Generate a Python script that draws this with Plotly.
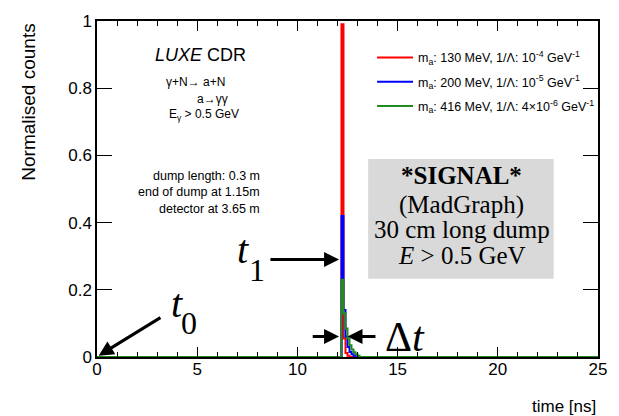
import plotly.graph_objects as go

# Time bins (ns) around the arrival peak; bin width 0.1 ns
peak_edges = [12.2, 12.3, 12.4, 12.5, 12.6, 12.7, 12.8, 12.9, 13.0, 13.1]
t_min, t_max = 0.0, 25.0

# Normalised counts per bin for each signal hypothesis
counts_130 = [0.99, 0.055, 0.012, 0.004, 0.0, 0.0, 0.0, 0.0, 0.0]
counts_200 = [0.42, 0.14, 0.06, 0.03, 0.015, 0.008, 0.004, 0.0, 0.0]
counts_416 = [0.23, 0.13, 0.085, 0.055, 0.035, 0.022, 0.014, 0.008, 0.004]

labels = [
    "m<sub>a</sub>: 130 MeV, 1/Λ: 10<sup>-4</sup> GeV<sup>-1</sup>",
    "m<sub>a</sub>: 200 MeV, 1/Λ: 10<sup>-5</sup> GeV<sup>-1</sup>",
    "m<sub>a</sub>: 416 MeV, 1/Λ: 4×10<sup>-6</sup> GeV<sup>-1</sup>",
]
colors = ["#ff0000", "#0000ff", "#1e8c1e"]

x_ticks = [0, 5, 10, 15, 20, 25]
y_ticks = [0, 0.2, 0.4, 0.6, 0.8, 1]
y_ticklabels = ["0", "0.2", "0.4", "0.6", "0.8", "1"]

SANS = "Liberation Sans, Arial, sans-serif"
SERIF = "Liberation Serif, Times New Roman, serif"


def step_series(values):
    """Histogram outline: zero baseline, peak bins, back to zero."""
    xs = [t_min] + peak_edges + [t_max]
    ys = [0.0] + list(values) + [0.0, 0.0]
    return xs, ys


fig = go.Figure()
for i, (vals, name, col) in enumerate(zip([counts_130, counts_200, counts_416], labels, colors)):
    xs, ys = step_series(vals)
    fig.add_trace(go.Scatter(
        x=xs, y=ys, mode="lines", name=name,
        line=dict(color=col, width=2, shape="hv"),
        legendgroup=f"g{i}",
    ))

axis_common = dict(
    showline=True, linecolor="black", linewidth=1.5, mirror="allticks",
    ticks="inside", tickcolor="black", showgrid=False, zeroline=False,
    tickfont=dict(family=SANS, size=17, color="black"),
)

fig.update_xaxes(range=[t_min, t_max], tickvals=x_ticks, ticklen=10, tickwidth=1,
                 ticklabelstandoff=-4,
                 minor=dict(dtick=1, ticks="inside", ticklen=5, tickcolor="black"),
                 **axis_common)
fig.update_yaxes(range=[0, 1], tickvals=y_ticks, ticktext=y_ticklabels, ticklen=15,
                 tickwidth=1, **axis_common)

annotations = []

# Axis titles
annotations.append(dict(text="Normalised counts", xref="paper", yref="paper",
                        x=-0.137, y=0.758, xanchor="center", yanchor="middle",
                        textangle=-90, showarrow=False,
                        font=dict(family=SANS, size=19, color="black")))
annotations.append(dict(text="time [ns]", xref="paper", yref="paper",
                        x=1.0, y=-0.146, xanchor="right", yanchor="middle",
                        showarrow=False, font=dict(family=SANS, size=17, color="black")))

# Left info block
annotations.append(dict(text="<i>LUXE</i> CDR", x=5.15, y=0.90, showarrow=False,
                        font=dict(family=SANS, size=18, color="black")))
for txt, xx, yy in [("γ+N→ a+N", 4.90, 0.819), ("a→γγ", 5.74, 0.767),
                    ("E<sub>γ</sub> > 0.5 GeV", 5.34, 0.72)]:
    annotations.append(dict(text=txt, x=xx, y=yy, showarrow=False,
                            font=dict(family=SANS, size=12, color="black")))
for txt, yy in [("dump length: 0.3 m", 0.539), ("end of dump at 1.15m", 0.49),
                ("detector at 3.65 m", 0.44)]:
    annotations.append(dict(text=txt, x=8.24, y=yy, xanchor="right", showarrow=False,
                            font=dict(family=SANS, size=12.5, color="black")))

# Signal description box
box_cx = 18.2
for txt, yy in [("<b>*SIGNAL*</b>", 0.540), ("(MadGraph)", 0.453),
                ("30 cm long dump", 0.380), ("<i>E</i> > 0.5 GeV", 0.303)]:
    annotations.append(dict(text=txt, x=box_cx, y=yy, showarrow=False,
                            font=dict(family=SERIF, size=25, color="black")))

# Timing markers
arrow = dict(text="", showarrow=True, arrowhead=2, arrowsize=1, arrowwidth=3,
             arrowcolor="black", axref="x", ayref="y")
peak_t = peak_edges[0]
annotations.append(dict(arrow, x=peak_t - 0.12, y=0.29, ax=8.58, ay=0.29))      # t1
annotations.append(dict(arrow, x=0.08, y=0.004, ax=3.24, ay=0.12))             # t0
annotations.append(dict(arrow, x=peak_t - 0.12, y=0.061, ax=10.69, ay=0.061))  # Δt left
annotations.append(dict(arrow, x=peak_t + 0.3, y=0.061, ax=13.97, ay=0.061))   # Δt right

for txt, xx, yy, size in [("<i>t</i>", 7.3, 0.32, 40), ("1", 8.0, 0.26, 32),
                          ("<i>t</i>", 4.0, 0.16, 40), ("0", 4.6, 0.10, 32),
                          ("Δ<i>t</i>", 15.35, 0.06, 42)]:
    annotations.append(dict(text=txt, x=xx, y=yy, showarrow=False,
                            font=dict(family=SERIF, size=size, color="black")))

fig.update_layout(
    width=619, height=416,
    margin=dict(l=97, r=12, t=14, b=59),
    paper_bgcolor="white", plot_bgcolor="white",
    showlegend=True,
    legend=dict(x=0.549, y=0.935, xanchor="left", yanchor="top",
                bgcolor="rgba(0,0,0,0)", borderwidth=0,
                traceorder="grouped", tracegroupgap=5, itemwidth=36,
                font=dict(family=SANS, size=12.5, color="black")),
    shapes=[dict(type="rect", xref="x", yref="y", x0=13.53, x1=22.79, y0=0.233, y1=0.589,
                 fillcolor="#d9d9d9", line=dict(width=0), layer="below")],
    annotations=annotations,
)

fig.write_html("out.html")
